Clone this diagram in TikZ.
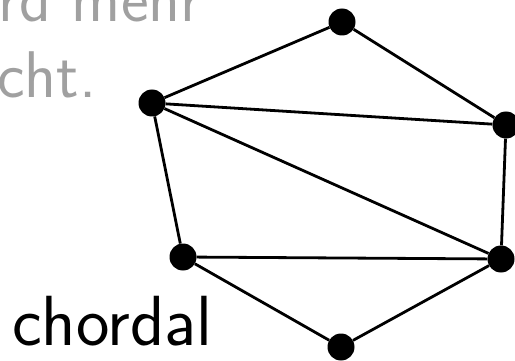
\documentclass[tikz,border=0pt]{standalone}
\usepackage{fontspec}
\usetikzlibrary{positioning}
\definecolor{faded}{RGB}{160,160,160}

\begin{document}
\begin{tikzpicture}[x=1pt,y=-1pt,
    vertex/.style={circle,fill=black,inner sep=0pt,minimum size=27pt},
    edge/.style={line width=2.8pt}]
  \useasboundingbox (0,0) rectangle (515,361);
  \clip (0,0) rectangle (515,361);
  % text of the slide
  \node[font=\sffamily\fontsize{66}{76}\selectfont,text=faded,anchor=base west,inner sep=0pt] (line1) at (-2,22) {rd mehr};
  \node[font=\sffamily\fontsize{66}{76}\selectfont,text=faded,anchor=base west,inner sep=0pt] (line2) at (-3,98) {cht.};
  \node[font=\sffamily\fontsize{71}{86}\selectfont,anchor=base west,inner sep=0pt] (label) at (12,345) {chordal};
  % vertices
  \node[vertex] (t) at (342,22) {};
  \node[vertex] (a) at (152,103) {};
  \node[vertex] (b) at (506,125) {};
  \node[vertex] (c) at (183,257) {};
  \node[vertex] (d) at (501,259) {};
  \node[vertex] (u) at (341,347) {};
  % edges
  \foreach \p/\q in {t/a,t/b,a/b,a/c,a/d,b/d,c/d,c/u,u/d}
    \draw[edge] (\p) -- (\q);
\end{tikzpicture}
\end{document}
